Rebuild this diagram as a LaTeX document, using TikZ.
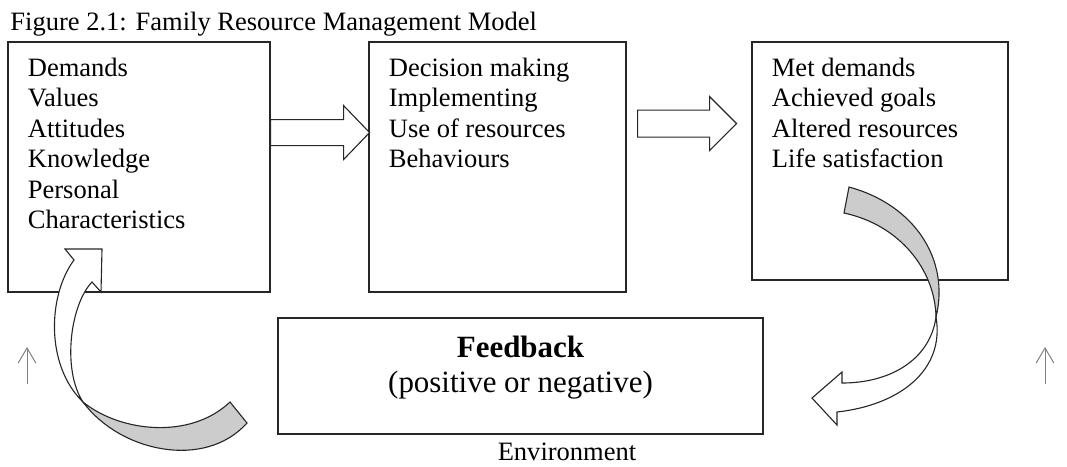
\documentclass[tikz,border=0pt]{standalone}
\usepackage{fontspec}
\setmainfont{Liberation Serif}
\usetikzlibrary{calc,fit,arrows.meta}

\tikzset{
  box/.style={draw=black!85, line width=0.5pt, rectangle, inner sep=0pt},
  txt/.style={inner sep=0pt, font=\fontsize{12pt}{13.8pt}\selectfont},
  lst/.style={txt, anchor=base west},
  big/.style={inner sep=0pt, font=\fontsize{14pt}{16pt}\selectfont, anchor=base},
  blockarrow/.style={draw=black!85, line width=0.5pt, fill=white, line join=miter},
  twist/.style={draw=black!85, line width=0.5pt, fill=black!20},
  env/.style={draw=black!50, line width=0.45pt, -{Straight Barb[length=6.8pt,width=8pt]}}
}

\begin{document}
\begin{tikzpicture}[x=0.4525pt,y=-0.4525pt]
\useasboundingbox (0,0) rectangle (1067,466);
\node[lst] (title) at (10,30) {Figure 2.1: Family Resource Management Model};
% the three stages
\node[box, fit={(8,42) (270,292)}] (inputs) {};
\node[box, fit={(369,42) (626,292)}] (process) {};
\node[box, fit={(752,42) (1008,280)}] (outputs) {};
\node[lst] (inlist) at ($(inputs.north west)+(20,35)$)
  {\begin{tabular}[t]{@{}l@{}}Demands\\Values\\Attitudes\\Knowledge\\Personal\\Characteristics\end{tabular}};
\node[lst] (proclist) at ($(process.north west)+(20,35)$)
  {\begin{tabular}[t]{@{}l@{}}Decision making\\Implementing\\Use of resources\\Behaviours\end{tabular}};
\node[lst] (outlist) at ($(outputs.north west)+(20,35)$)
  {\begin{tabular}[t]{@{}l@{}}Met demands\\Achieved goals\\Altered resources\\Life satisfaction\end{tabular}};
% block arrows
\draw[blockarrow] (inputs.south east) ++(0,-173) -- ++(73,0) -- ++(0,-14) -- ++(26,27)
  -- ++(-26,27) -- ++(0,-14) -- ++(-73,0) -- cycle;
\draw[blockarrow] (process.south east) ++(11,-182.5) -- ++(72,0) -- ++(0,-13.5) -- ++(27,27)
  -- ++(-27,27) -- ++(0,-13.5) -- ++(-72,0) -- cycle;
% feedback
\node[box, fit={(278,318) (763,434)}] (fb) {};
\node[big] (fbhead) at ($(fb.north)+(0,40)$) {\textbf{Feedback}};
\node[big] (fbsub) at ($(fb.north)+(0,75)$) {(positive or negative)};
\node[txt, anchor=base] (envtext) at (567,460) {Environment};
% curved arrows
\draw[twist] (849,187) .. controls (915,205) and (950,260) .. (936,317)
  .. controls (935,270) and (900,225) .. (844,213) -- cycle;
\draw[blockarrow] (936,317) .. controls (930,360) and (890,383) .. (842,383) -- (842,372)
  -- (812,398) -- (837,425) -- (837,412) .. controls (900,405) and (945,370) .. (936,317) -- cycle;
\draw[blockarrow] (102,249) -- (65,249) -- (74,260) .. controls (48,295) and (45,365) .. (83,402)
  .. controls (62,370) and (70,305) .. (92,282) -- (101,292) -- cycle;
\draw[twist] (83,402) .. controls (120,452) and (205,470) .. (247,423) -- (230,402)
  .. controls (190,440) and (120,432) .. (83,402) -- cycle;
% environment arrows
\coordinate (envL0) at (27,384);
\coordinate (envL1) at (27,347);
\coordinate (envR0) at (1045,384);
\coordinate (envR1) at (1045,347);
\draw[env] (envL0) -- (envL1);
\draw[env] (envR0) -- (envR1);
\end{tikzpicture}
\end{document}
